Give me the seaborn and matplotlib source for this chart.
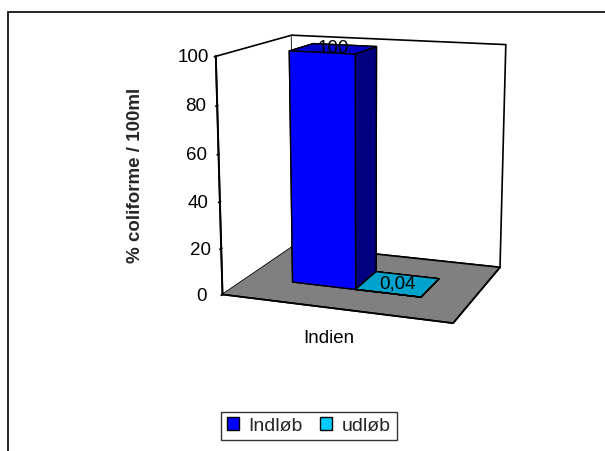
import matplotlib
matplotlib.use("Agg")
import matplotlib.pyplot as plt
from matplotlib.patches import Patch, Rectangle
from matplotlib.transforms import ScaledTranslation
import seaborn as sns

# data
kategorier = ["Indien"]
serier = ["Indløb", "udløb"]
vaerdier = [100, 0.04]
etiketter = ["100", "0,04"]
y_ticks = [0, 20, 40, 60, 80, 100]

farver = sns.color_palette(["#0000FF", "#00CCFF"])
top_farver = ["#0000C8", "#00A3CC"]
side_farver = ["#000080", "#006680"]

sns.set_theme(style="white")
plt.rcParams['font.family'] = ['Liberation Sans', 'DejaVu Sans']

fig = plt.figure(figsize=(6.05, 4.51), dpi=100)
ax = fig.add_axes([0.237, 0.217, 0.72, 0.8], projection="3d")
ax.set_proj_type("persp", focal_length=0.62)
ax.view_init(elev=13, azim=-70)
ax.set_box_aspect((1, 0.76, 1.0), zoom=1.02)
ax.computed_zorder = False

bredde = 0.29
dybde = 0.34
start = 0.21
for i, v in enumerate(vaerdier):
    x0 = start + i * bredde
    # face order: -z, +z, -y, +y, -x, +x
    face = [farver[i], top_farver[i], farver[i], farver[i], side_farver[i], side_farver[i]]
    ax.bar3d(x0, 0.33, 0, bredde, dybde, v, color=face, shade=False,
             edgecolor="black", linewidth=1.0, zorder=3)
    ax.text(x0 + bredde / 2, 0.5, v, etiketter[i], ha="center", va="center",
            fontsize=13.5, color="black", zorder=10)

ax.set_xlim(0, 1)
ax.set_ylim(0, 1)
ax.set_zlim(0, 100)

ax.xaxis.set_pane_color((1, 1, 1, 1))
ax.yaxis.set_pane_color((1, 1, 1, 1))
ax.zaxis.set_pane_color((0.5, 0.5, 0.5, 1))
for a in (ax.xaxis, ax.yaxis, ax.zaxis):
    a.pane.set_edgecolor("black")
    a.pane.set_linewidth(1.2)
    a.line.set_color("black")
    a.line.set_linewidth(1.2)
ax.grid(False)

# forreste lodrette kant (værdiaksen)
ax.plot([0, 0], [0, 0], [0, 100], color="black", linewidth=1.4, zorder=5)

ax.zaxis.set_ticks_position("lower")
ax.set_zticks(y_ticks)
ax.set_zticklabels([str(t) for t in y_ticks], fontsize=13.5)
plt.setp(ax.get_zticklabels(), va="center")
ax.set_xticks([0.5])
ax.set_xticklabels(kategorier, fontsize=13.5)
ax.set_yticks([])
ax.tick_params(axis="z", colors="black", pad=1.5)
ax.tick_params(axis="x", color=(0, 0, 0, 0), labelcolor="black", pad=2)
for lbl in ax.get_xticklabels():
    lbl.set_transform(lbl.get_transform() + ScaledTranslation(0.13, -0.04, fig.dpi_scale_trans))

fig.text(136 / 605, 1 - 175 / 451, "% coliforme / 100ml", rotation=90,
         ha="center", va="center", fontsize=13.5, fontweight="bold")

handles = [Patch(facecolor=farver[i], edgecolor="black", label=s) for i, s in enumerate(serier)]
fig.legend(handles=handles, loc="center", bbox_to_anchor=(309 / 605, 1 - 426 / 451),
           ncol=2, frameon=True, fancybox=False, edgecolor="black", fontsize=14,
           handlelength=0.6, handleheight=0.6, handletextpad=0.5, columnspacing=0.9,
           borderpad=0.3)

fig.add_artist(Rectangle((8 / 605, -0.1), 1.2, 1 - 12 / 451 + 0.1,
                         transform=fig.transFigure, fill=False, edgecolor="black", linewidth=1.2))

fig.savefig("out.png", dpi=100)
